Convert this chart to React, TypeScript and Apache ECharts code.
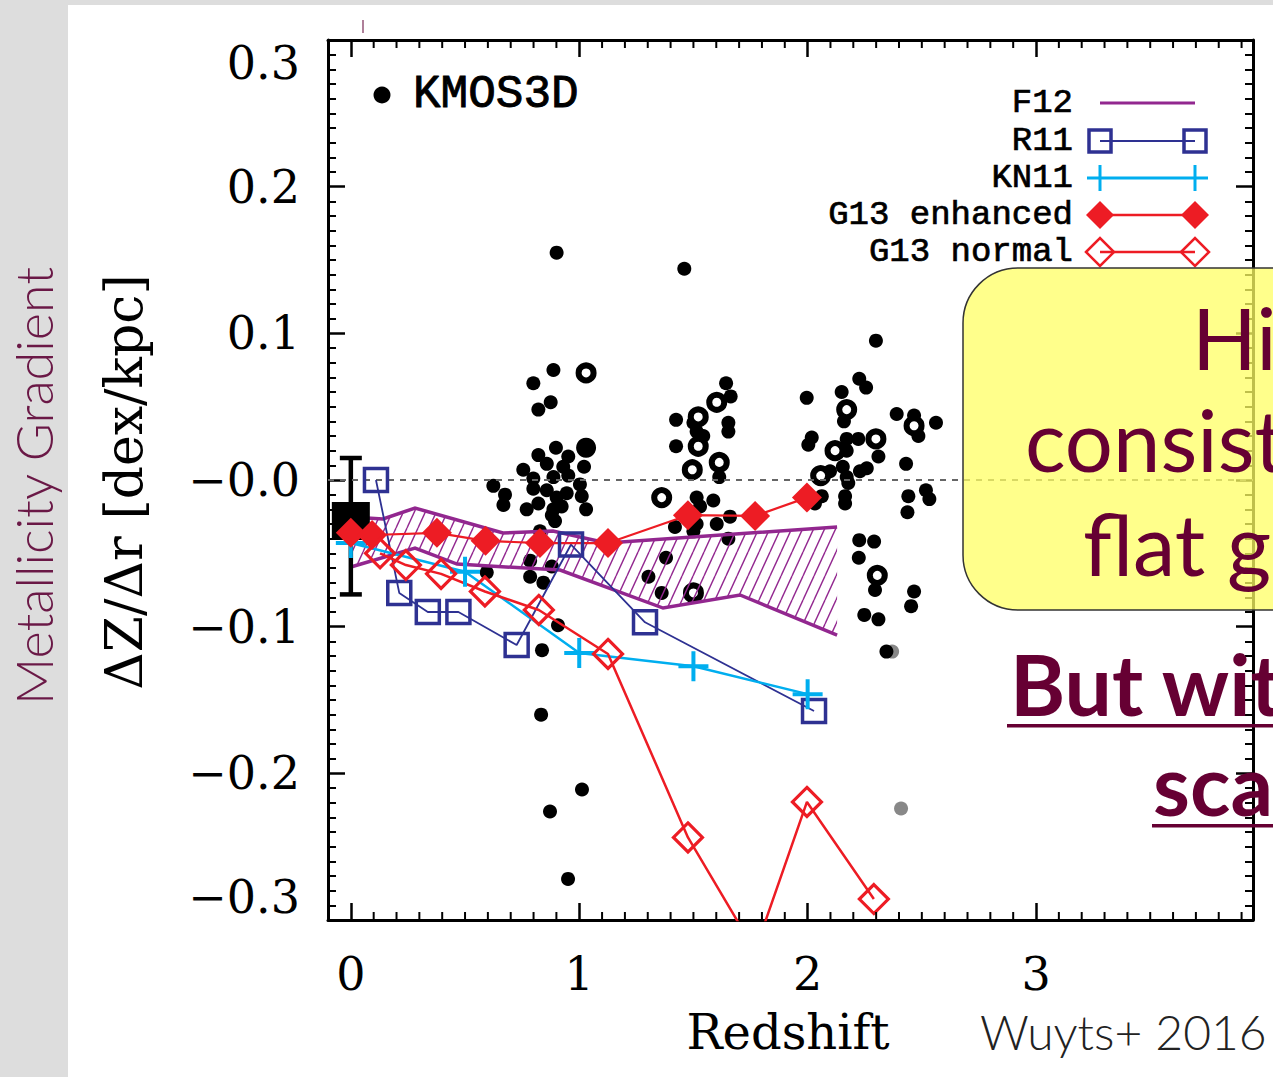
import React, { useEffect, useRef } from 'react';
import * as echarts from 'echarts';

// ---------------- data ----------------
const KMOS_Z = [0.901, 1.46, 0.887, 0.799, 0.875, 0.821, 1.643, 1.663, 1.424, 1.5, 1.653, 1.653, 1.514, 1.543, 1.424, 1.613, 1.514, 1.587, 1.529, 1.419, 1.514, 1.602, 1.66, 1.5, 1.653, 1.38, 1.303, 1.361,
  0.898, 0.821, 0.952, 0.755, 0.858, 0.93, 1.021, 0.952, 0.887, 0.799, 1.003, 0.624, 0.675, 0.799, 0.858, 0.945, 0.901, 0.668, 0.821, 0.77, 0.923, 1.011, 1.03, 0.88, 0.894, 0.828, 0.785, 0.88, 0.595, 0.785, 0.843, 0.907, 0.837, 0.833, 1.012, 0.872, 0.951, 0.887,
  2.299, 1.996, 2.226, 2.256, 2.149, 2.159, 2.39, 2.466, 2.485, 2.562, 2.018, 2.003, 2.171, 2.222, 2.171, 2.31, 2.154, 2.259, 2.229, 2.431, 2.098, 2.171, 2.178, 2.062, 2.032, 2.164, 2.164, 2.441, 2.518, 2.533, 2.437, 2.226, 2.291, 2.224, 2.295, 2.466, 2.453, 2.248, 2.31, 2.345];
const KMOS_GRAD = [0.155, 0.144, 0.075, 0.066, 0.053, 0.048, 0.066, 0.057, 0.041, 0.039, 0.039, 0.033, 0.033, 0.03, 0.023, 0.002, -0.012, -0.014, -0.018, -0.032, -0.03, -0.03, -0.025, -0.035, -0.04, -0.053, -0.066, -0.077,
  0.022, 0.017, 0.016, 0.007, 0.011, 0.009, 0.009, 0.003, 0.002, 0.001, -0.003, -0.004, -0.01, -0.006, -0.007, -0.009, -0.012, -0.017, -0.016, -0.02, -0.018, -0.011, -0.02, -0.024, -0.028, -0.035, -0.055, -0.059, -0.063, -0.066, -0.07, -0.099, -0.116, -0.16, -0.211, -0.226, -0.272, -0.02,
  0.095, 0.056, 0.069, 0.063, 0.06, 0.04, 0.045, 0.044, 0.03, 0.039, 0.029, 0.024, 0.028, 0.028, 0.02, 0.016, 0.009, 0.008, 0.006, 0.011, 0.006, 0.002, -0.002, -0.011, -0.016, -0.011, -0.016, -0.011, -0.007, -0.013, -0.022, -0.041, -0.042, -0.053, -0.075, -0.076, -0.086, -0.092, -0.095, -0.117];
const KMOS_BIG_Z = [1.03];
const KMOS_BIG_GRAD = [0.022];
const KMOS_OPEN_Z = [1.03, 1.602, 1.521, 1.521, 1.495, 1.613, 1.361, 1.5, 2.171, 2.466, 2.299, 2.12, 2.057, 2.305];
const KMOS_OPEN_GRAD = [0.073, 0.053, 0.043, 0.023, 0.007, 0.012, -0.012, -0.077, 0.048, 0.037, 0.028, 0.02, 0.003, -0.065];
const KMOS_GREY_Z = [2.37, 2.409];
const KMOS_GREY_GRAD = [-0.117, -0.224];

const LOCAL_Z = [0];
const LOCAL_GRAD = [-0.028];
const LOCAL_HI = [0.015];
const LOCAL_LO = [-0.078];

const F12_UP_Z = [0, 0.141, 0.281, 0.666, 0.885, 1.121, 2.129];
const F12_UP_GRAD = [-0.0252, -0.0266, -0.0191, -0.0361, -0.0348, -0.043, -0.032];
const F12_LO_Z = [0, 0.281, 0.465, 0.916, 1.367, 1.704, 2.129];
const F12_LO_GRAD = [-0.0593, -0.0464, -0.0573, -0.0614, -0.0873, -0.0784, -0.1057];

const R11_Z = [0.11, 0.212, 0.337, 0.471, 0.726, 0.964, 1.288, 2.028];
const R11_GRAD = [0.0, -0.077, -0.09, -0.09, -0.1125, -0.044, -0.097, -0.1575];

const KN11_Z = [0, 0.5, 1.0, 1.5, 2.0];
const KN11_GRAD = [-0.043, -0.0625, -0.118, -0.127, -0.146];

const G13E_Z = [0, 0.093, 0.377, 0.59, 0.828, 1.126, 1.476, 1.77, 1.997];
const G13E_GRAD = [-0.036, -0.0375, -0.036, -0.0415, -0.043, -0.043, -0.024, -0.0245, -0.012];

const G13N_Z = [0.128, 0.241, 0.395, 0.587, 0.823, 1.126, 1.476, 1.77, 1.997, 2.29];
const G13N_GRAD = [-0.05, -0.058, -0.064, -0.076, -0.0886, -0.1186, -0.2437, -0.321, -0.2195, -0.2857];

const LEGEND_LABELS = ['F12', 'R11', 'KN11', 'G13 enhanced', 'G13 normal'];
const X_MIN = -0.1;
const X_MAX = 3.95;
const Y_MIN = -0.3;
const Y_MAX = 0.3;
// minor tick positions on the redshift axis (every 0.1, skipping the labelled integers)
const X_MINOR_TICKS = [
  0.1, 0.2, 0.3, 0.4, 0.5, 0.6, 0.7, 0.8, 0.9,
  1.1, 1.2, 1.3, 1.4, 1.5, 1.6, 1.7, 1.8, 1.9,
  2.1, 2.2, 2.3, 2.4, 2.5, 2.6, 2.7, 2.8, 2.9,
  3.1, 3.2, 3.3, 3.4, 3.5, 3.6, 3.7, 3.8, 3.9,
];

// ---------------- styles ----------------
const C_F12 = '#92278F';
const C_R11 = '#2E3192';
const C_KN11 = '#00AEEF';
const C_G13 = '#ED1C24';
const C_MAROON = '#660033';

const pairs = (xs: number[], ys: number[]) => xs.map((x, i) => [x, ys[i]]);

const HATCH_SVG =
  '<svg xmlns="http://www.w3.org/2000/svg" width="11" height="24">' +
  '<g stroke="' + C_F12 + '" stroke-width="1.4">' +
  '<line x1="-11" y1="24" x2="0" y2="0"/><line x1="0" y1="24" x2="11" y2="0"/><line x1="11" y1="24" x2="22" y2="0"/>' +
  '</g></svg>';
const HATCH_FILL: any = {
  image: 'data:image/svg+xml;charset=utf-8,' + encodeURIComponent(HATCH_SVG),
  repeat: 'repeat',
  imageWidth: 11,
  imageHeight: 24,
};

const SERIF = 'DejaVu Serif';
const MONO = 'Liberation Mono';

function txt(text: string, x: number, y: number, font: string, fill: string, align: string, extra: any = {}) {
  const style: any = {
    text,
    font,
    fill,
    align,
    textAlign: align,
    verticalAlign: 'middle',
    textVerticalAlign: 'middle',
  };
  if (extra.stroke) {
    style.stroke = extra.stroke;
    style.lineWidth = extra.lineWidth;
  }
  return {
    type: 'text',
    x,
    y,
    z: extra.z ?? 110,
    rotation: extra.rotation ?? 0,
    style,
  };
}

function buildLegend() {
  const ys = [103, 141, 178, 215, 252];
  const xa = 1100;
  const xb = 1195;
  const els: any[] = [];
  LEGEND_LABELS.forEach((lab, i) => {
    els.push(txt(lab, 1073, ys[i], `34px "${MONO}"`, '#000', 'right', { stroke: '#000', lineWidth: 0.7 }));
  });
  els.push({ type: 'line', z: 110, shape: { x1: xa, y1: ys[0], x2: xb, y2: ys[0] }, style: { stroke: C_F12, lineWidth: 3 } });
  els.push({ type: 'line', z: 110, shape: { x1: xa, y1: ys[1], x2: xb, y2: ys[1] }, style: { stroke: C_R11, lineWidth: 2 } });
  [xa, xb].forEach((x) =>
    els.push({ type: 'rect', z: 110, shape: { x: x - 11, y: ys[1] - 11, width: 22, height: 22 }, style: { fill: 'none', stroke: C_R11, lineWidth: 3.5 } })
  );
  els.push({ type: 'line', z: 110, shape: { x1: xa - 13, y1: ys[2], x2: xb + 13, y2: ys[2] }, style: { stroke: C_KN11, lineWidth: 3 } });
  [xa, xb].forEach((x) =>
    els.push({ type: 'line', z: 110, shape: { x1: x, y1: ys[2] - 13, x2: x, y2: ys[2] + 13 }, style: { stroke: C_KN11, lineWidth: 3 } })
  );
  els.push({ type: 'line', z: 110, shape: { x1: xa, y1: ys[3], x2: xb, y2: ys[3] }, style: { stroke: C_G13, lineWidth: 2.5 } });
  [xa, xb].forEach((x) =>
    els.push({ type: 'polygon', z: 110, shape: { points: [[x - 14, ys[3]], [x, ys[3] - 14], [x + 14, ys[3]], [x, ys[3] + 14]] }, style: { fill: C_G13 } })
  );
  els.push({ type: 'line', z: 110, shape: { x1: xa, y1: ys[4], x2: xb, y2: ys[4] }, style: { stroke: C_G13, lineWidth: 2.5 } });
  [xa, xb].forEach((x) =>
    els.push({ type: 'polygon', z: 110, shape: { points: [[x - 14, ys[4]], [x, ys[4] - 14], [x + 14, ys[4]], [x, ys[4] + 14]] }, style: { fill: 'none', stroke: C_G13, lineWidth: 2.5 } })
  );
  return els;
}

const yFmt = (v: number) => {
  const r = Math.round(v * 10) / 10;
  return (r > 0 ? '' : '\u2212') + Math.abs(r).toFixed(1);
};

function makeOption(): any {
  const GRID_W = 1273 - 328 - 20;
  const pxPerUnit = GRID_W / (X_MAX - X_MIN);
  const axisLineStyle = { color: '#000', width: 3 };
  const borderX = (position: string) => ({
    type: 'value', gridIndex: 0, position, min: X_MIN, max: X_MAX,
    axisLine: { show: true, onZero: false, lineStyle: axisLineStyle },
    axisTick: { show: false },
    axisLabel: { show: false }, splitLine: { show: false },
  });
  const tickX = (position: string, labels: boolean) => ({
    type: 'value', gridIndex: 1, position, min: 0, max: X_MAX, interval: 1,
    axisLine: { show: false, onZero: false },
    axisTick: { show: true, inside: true, length: 17, lineStyle: { color: '#000', width: 2.5 } },
    axisLabel: labels
      ? { show: true, showMaxLabel: false, margin: 31, fontFamily: SERIF, fontSize: 46, color: '#000' }
      : { show: false },
    splitLine: { show: false },
  });
  const yAx = (position: string, labels: boolean) => ({
    type: 'value', gridIndex: 0, position, min: Y_MIN, max: Y_MAX, interval: 0.1,
    axisLine: { show: true, onZero: false, lineStyle: axisLineStyle },
    axisTick: { show: true, inside: true, length: 17, lineStyle: { color: '#000', width: 2.5 } },
    minorTick: { show: true, splitNumber: 10, length: 8, lineStyle: { color: '#000', width: 2 } },
    axisLabel: labels
      ? { show: true, margin: 28, fontFamily: SERIF, fontSize: 46, color: '#000', formatter: yFmt, verticalAlignMinLabel: 'bottom', verticalAlignMaxLabel: 'top' }
      : { show: false },
    splitLine: { show: false },
  });

  const lineCommon = { type: 'line', xAxisIndex: 0, yAxisIndex: 0, clip: true, z: 5 };
  const solid = (c: string) => ({ color: c, opacity: 1 });

  return {
    animation: false,
    backgroundColor: '#ffffff',
    grid: [
      { left: 328, right: 20, top: 40, bottom: 157 },
      { left: 328 + (0 - X_MIN) * pxPerUnit, right: 20, top: 40, bottom: 157 },
    ],
    xAxis: [borderX('bottom'), borderX('top'), tickX('bottom', true), tickX('top', false)],
    yAxis: [yAx('left', true), yAx('right', false), { type: 'value', gridIndex: 1, show: false, min: Y_MIN, max: Y_MAX }],
    series: [
      {
        type: 'custom', name: 'x minor ticks', z: 6, silent: true, clip: false,
        data: [[0, 0]],
        renderItem: (params: any, api: any) => {
          const st = { stroke: '#000', lineWidth: 2 };
          const children: any[] = [];
          X_MINOR_TICKS.forEach((v) => {
            const b = api.coord([v, Y_MIN]);
            const t = api.coord([v, Y_MAX]);
            children.push({ type: 'line', shape: { x1: b[0], y1: b[1], x2: b[0], y2: b[1] - 8 }, style: st });
            children.push({ type: 'line', shape: { x1: t[0], y1: t[1], x2: t[0], y2: t[1] + 8 }, style: st });
          });
          return { type: 'group', children };
        },
      },
      {
        type: 'scatter', name: 'KMOS3D grey', data: pairs(KMOS_GREY_Z, KMOS_GREY_GRAD),
        symbolSize: 14, itemStyle: solid('#888888'), z: 2,
      },
      {
        type: 'scatter', name: 'KMOS3D', data: pairs(KMOS_Z, KMOS_GRAD),
        symbolSize: 14, itemStyle: solid('#000'), z: 2,
        markLine: {
          silent: true, symbol: ['none', 'none'], label: { show: false },
          lineStyle: { color: '#666', type: [6, 6], width: 2 },
          data: [{ yAxis: 0 }],
        },
      },
      {
        type: 'scatter', name: 'KMOS3D big', data: pairs(KMOS_BIG_Z, KMOS_BIG_GRAD),
        symbolSize: 20, itemStyle: solid('#000'), z: 2,
      },
      {
        type: 'scatter', name: 'KMOS3D open', data: pairs(KMOS_OPEN_Z, KMOS_OPEN_GRAD),
        symbolSize: 15, itemStyle: { color: '#fff', opacity: 1, borderColor: '#000', borderWidth: 6 }, z: 2,
      },
      {
        type: 'custom', name: 'F12', z: 3,
        data: [[0, 0]],
        renderItem: (params: any, api: any) => {
          const up = F12_UP_Z.map((z, i) => api.coord([z, F12_UP_GRAD[i]]));
          const lo = F12_LO_Z.map((z, i) => api.coord([z, F12_LO_GRAD[i]]));
          return {
            type: 'group',
            children: [
              { type: 'polygon', shape: { points: up.concat(lo.slice().reverse()) }, style: { fill: HATCH_FILL, stroke: 'none' } },
              { type: 'polyline', shape: { points: up }, style: { fill: 'none', stroke: C_F12, lineWidth: 3.5 } },
              { type: 'polyline', shape: { points: lo }, style: { fill: 'none', stroke: C_F12, lineWidth: 3.5 } },
            ],
          };
        },
      },
      {
        type: 'custom', name: 'local err', z: 4,
        data: LOCAL_Z.map((z, i) => [z, LOCAL_HI[i], LOCAL_LO[i]]),
        encode: { x: 0, y: [1, 2] },
        renderItem: (params: any, api: any) => {
          const p1 = api.coord([api.value(0), api.value(1)]);
          const p2 = api.coord([api.value(0), api.value(2)]);
          const st = { stroke: '#000', lineWidth: 4.5 };
          return {
            type: 'group',
            children: [
              { type: 'line', shape: { x1: p1[0], y1: p1[1], x2: p2[0], y2: p2[1] }, style: st },
              { type: 'line', shape: { x1: p1[0] - 11, y1: p1[1], x2: p1[0] + 11, y2: p1[1] }, style: st },
              { type: 'line', shape: { x1: p2[0] - 11, y1: p2[1], x2: p2[0] + 11, y2: p2[1] }, style: st },
            ],
          };
        },
      },
      {
        type: 'scatter', name: 'local', data: pairs(LOCAL_Z, LOCAL_GRAD),
        symbol: 'rect', symbolSize: 38, itemStyle: solid('#000'), z: 4,
      },
      {
        ...lineCommon, name: 'R11', data: pairs(R11_Z, R11_GRAD),
        symbol: 'rect', symbolSize: 23, showSymbol: true,
        lineStyle: { color: C_R11, width: 1.8 },
        itemStyle: { color: 'rgba(0,0,0,0)', borderColor: C_R11, borderWidth: 3.5 },
      },
      {
        ...lineCommon, name: 'KN11', data: pairs(KN11_Z, KN11_GRAD),
        symbol: 'path://M10,0 L10,20 M0,10 L20,10', symbolSize: 30, showSymbol: true,
        lineStyle: { color: C_KN11, width: 2.5 },
        itemStyle: { color: 'rgba(0,0,0,0)', borderColor: C_KN11, borderWidth: 4 },
      },
      {
        ...lineCommon, name: 'G13 enhanced', data: pairs(G13E_Z, G13E_GRAD),
        symbol: 'diamond', symbolSize: 30, showSymbol: true,
        lineStyle: { color: C_G13, width: 2.2 },
        itemStyle: { color: C_G13 },
      },
      {
        ...lineCommon, name: 'G13 normal', data: pairs(G13N_Z, G13N_GRAD),
        symbol: 'diamond', symbolSize: 29, showSymbol: true,
        lineStyle: { color: C_G13, width: 2.5 },
        itemStyle: { color: 'rgba(0,0,0,0)', borderColor: C_G13, borderWidth: 3.2 },
      },
    ],
    graphic: [
      { type: 'rect', z: 1, shape: { x: 0, y: 0, width: 68, height: 1077 }, style: { fill: '#dddddd' } },
      { type: 'rect', z: 1, shape: { x: 0, y: 0, width: 1273, height: 5 }, style: { fill: '#dddddd' } },
      { type: 'line', z: 1, shape: { x1: 363, y1: 20, x2: 363, y2: 33 }, style: { stroke: '#7a2a55', lineWidth: 1.2 } },
      txt('Metallicity Gradient', 33, 486, '300 52px Lato', '#6a1846', 'center', { rotation: Math.PI / 2, z: 2 }),
      txt('\u0394Z/\u0394r [dex/kpc]', 124, 482, `52px "${SERIF}"`, '#000', 'center', { rotation: Math.PI / 2 }),
      txt('Redshift', 788, 1032, `48px "${SERIF}"`, '#000', 'center'),
      txt('Wuyts+ 2016', 980, 1031, '300 48px Lato', '#222', 'left'),
      { type: 'circle', z: 110, shape: { cx: 382, cy: 95, r: 8.5 }, style: { fill: '#000' } },
      txt('KMOS3D', 413, 95, `46px "${MONO}"`, '#000', 'left', { stroke: '#000', lineWidth: 0.9 }),
      ...buildLegend(),
      {
        type: 'rect', z: 120, shape: { x: 963, y: 268, width: 420, height: 342, r: 55 },
        style: { fill: 'rgba(255,255,100,0.75)', stroke: '#333', lineWidth: 1.5 },
      },
      txt('Hi', 1192, 337, '400 85px Lato', C_MAROON, 'left', { z: 121 }),
      txt('consist', 1025, 439, '400 85px Lato', C_MAROON, 'left', { z: 121 }),
      txt('flat g', 1083, 543, '400 85px Lato', C_MAROON, 'left', { z: 121 }),
      txt('But wit', 1010, 683, '700 84px Lato', C_MAROON, 'left', { z: 121 }),
      { type: 'rect', z: 121, shape: { x: 1007, y: 724, width: 266, height: 3.5 }, style: { fill: C_MAROON } },
      txt('sca', 1153, 783, '700 84px Lato', C_MAROON, 'left', { z: 121 }),
      { type: 'rect', z: 121, shape: { x: 1152, y: 824, width: 121, height: 3.5 }, style: { fill: C_MAROON } },
    ],
  };
}

export default function App() {
  const ref = useRef<HTMLDivElement>(null);
  useEffect(() => {
    if (!ref.current) return;
    const chart = echarts.init(ref.current, null, { renderer: 'svg' });
    chart.setOption(makeOption());
    return () => chart.dispose();
  }, []);
  return (
    <div
      ref={ref}
      style={{ position: 'absolute', left: 0, top: 0, width: 1273, height: 1077, background: '#fff' }}
    />
  );
}
